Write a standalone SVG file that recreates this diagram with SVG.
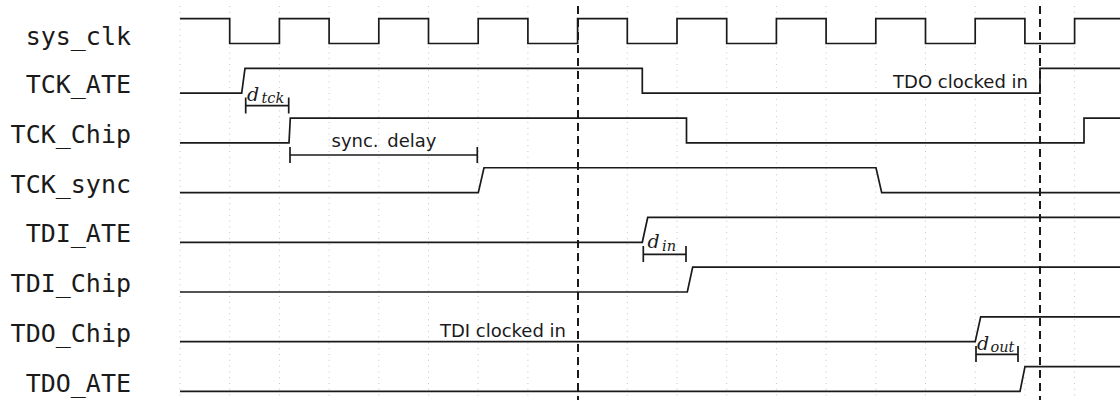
<svg xmlns="http://www.w3.org/2000/svg" width="1120" height="401" viewBox="0 0 1120 401">
<style>
.bg{fill:#ffffff}
.grid{stroke:#c4c4c4;stroke-width:1;stroke-dasharray:1 4.8;fill:none}
.sig{stroke:#1a1a1a;stroke-width:1.7;fill:none;stroke-linejoin:miter}
.dash{stroke:#1a1a1a;stroke-width:2;stroke-dasharray:8 5;fill:none}
.meas{stroke:#1a1a1a;stroke-width:1.7;fill:none}
.lbl{font-family:"DejaVu Sans Mono","Liberation Mono",monospace;font-size:25px;fill:#1a1a1a;text-anchor:end}
.note{font-family:"DejaVu Sans","Liberation Sans",sans-serif;font-size:18px;fill:#1a1a1a}
.math{font-family:"DejaVu Serif","Liberation Serif",serif;font-style:italic;fill:#1a1a1a}
.sub{font-size:14.5px}
</style>
<rect class="bg" x="0" y="0" width="1120" height="401"/>
<g id="grid">
<path class="grid" d="M180,6V398M229.7,6V398M279.4,6V398M329.1,6V398M378.8,6V398M428.5,6V398M478.2,6V398M527.9,6V398M577.6,6V398M627.3,6V398M677,6V398M726.7,6V398M776.4,6V398M826.1,6V398M875.8,6V398M925.5,6V398M975.2,6V398M1024.9,6V398M1074.6,6V398"/>
</g>
<g id="labels">
<text class="lbl" x="131" y="45">sys_clk</text>
<text class="lbl" x="131" y="93.3">TCK_ATE</text>
<text class="lbl" x="131" y="143">TCK_Chip</text>
<text class="lbl" x="131" y="192.7">TCK_sync</text>
<text class="lbl" x="131" y="242.4">TDI_ATE</text>
<text class="lbl" x="131" y="292.1">TDI_Chip</text>
<text class="lbl" x="131" y="341.8">TDO_Chip</text>
<text class="lbl" x="131" y="391.5">TDO_ATE</text>
</g>
<g id="sys_clk">
<path class="sig" d="M180,18.65H229.7V43.5H279.4V18.65H329.1V43.5H378.8V18.65H428.5V43.5H478.2V18.65H527.9V43.5H577.6V18.65H627.3V43.5H677V18.65H726.7V43.5H776.4V18.65H826.1V43.5H875.8V18.65H925.5V43.5H975.2V18.65H1024.9V43.5H1074.6V18.65H1120"/>
</g>
<g id="TCK_ATE">
<path class="sig" d="M180,93.2H241.7L245,68.35H642.3V93.2H1040V68.35H1120"/>
<text class="note" x="1028" y="88.3" text-anchor="end">TDO clocked in</text>
</g>
<g id="TCK_Chip">
<path class="sig" d="M180,142.9H289L290.3,118.05H686.5V142.9H1084V118.05H1120"/>
</g>
<g id="TCK_sync">
<path class="sig" d="M180,192.6H478.3L484,167.75H876L881.7,192.6H1120"/>
</g>
<g id="TDI_ATE">
<path class="sig" d="M180,242.3H642.3L647.7,217.45H1120"/>
</g>
<g id="TDI_Chip">
<path class="sig" d="M180,292H687.3L692.7,267.15H1120"/>
</g>
<g id="TDO_Chip">
<path class="sig" d="M180,341.7H975.2L980.7,316.85H1120"/>
<text class="note" x="566" y="336.5" text-anchor="end">TDI clocked in</text>
</g>
<g id="TDO_ATE">
<path class="sig" d="M180,391.4H1020L1025,366.55H1120"/>
</g>
<g id="connectors">
<path class="dash" d="M578,6V400M1040,6V400"/>
<g id="d_tck">
<path class="meas" d="M245.7,105.7H288.7M245.7,97.5V113.5M288.7,97.5V113.5"/>
<text class="math" x="247" y="100.5" font-size="19">d<tspan class="sub" x="261.5" y="102.5">tck</tspan></text>
</g>
<g id="sync_delay">
<path class="meas" d="M290,155H477.3M290,147V163M477.3,147V163"/>
<text class="note" x="384" y="147" text-anchor="middle" word-spacing="3">sync. delay</text>
</g>
<g id="d_in">
<path class="meas" d="M643.3,254.3H686M643.3,246V262M686,246V262"/>
<text class="math" x="647.5" y="248.3" font-size="19">d<tspan class="sub" x="662" y="250.5">in</tspan></text>
</g>
<g id="d_out">
<path class="meas" d="M976,354.3H1018M976,346V362M1018,346V362"/>
<text class="math" x="977" y="349.5" font-size="19">d<tspan class="sub" x="990.5" y="351.5">out</tspan></text>
</g>
</g>
</svg>
